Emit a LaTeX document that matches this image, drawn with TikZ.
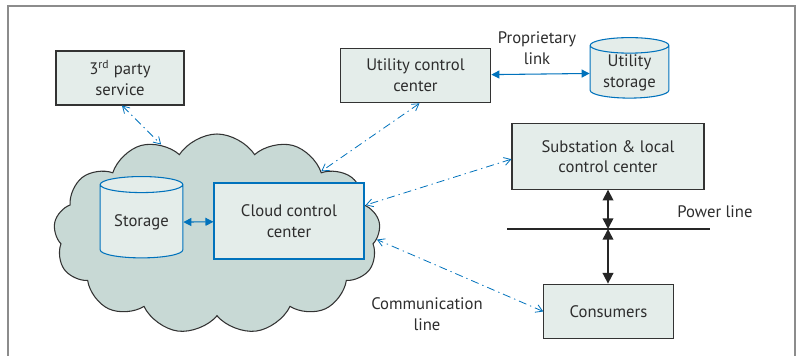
\documentclass[tikz,border=0pt]{standalone}
\usepackage{fontspec}
\setmainfont{PT Sans}
\usetikzlibrary{arrows.meta,positioning,shapes.geometric,shapes.symbols}
\definecolor{BoxFill}{RGB}{228,237,234}
\definecolor{CloudFill}{RGB}{200,217,213}
\definecolor{LinkBlue}{RGB}{0,114,188}
\definecolor{TextGray}{RGB}{45,45,45}
\definecolor{FrameGray}{RGB}{140,140,140}
\tikzset{
  block/.style={draw=black!80,fill=BoxFill,thick,align=center,
    text=TextGray,inner sep=2pt},
  blueblock/.style={block,draw=LinkBlue},
  store/.style={cylinder,shape border rotate=90,aspect=0.28,draw=LinkBlue,
    fill=BoxFill,thick,align=center,text=TextGray,inner sep=1pt},
  label/.style={align=center,text=TextGray},
  comm/.style={{Straight Barb[length=5pt,width=6pt]}-{Straight Barb[length=5pt,width=6pt]},
    LinkBlue,semithick,dash pattern=on 6pt off 3pt on 1pt off 3pt},
  link/.style={{Triangle[length=6pt,width=6pt]}-{Triangle[length=6pt,width=6pt]},
    LinkBlue,thick},
  power/.style={{Triangle[length=8pt,width=8pt]}-{Triangle[length=8pt,width=8pt]},
    black!85,very thick}
}
\begin{document}
\begin{tikzpicture}[x=0.75pt,y=-0.75pt,font=\fontsize{12.5}{15.5}\selectfont]
  \useasboundingbox (0,0) rectangle (799,356);
  % frame
  \draw[FrameGray,thick] (8,356) -- (8,6) -- (795,6) -- (795,356);
  % cloud
  \node[cloud,cloud puffs=13,cloud puff arc=115,aspect=1.6,draw=black!80,
    fill=CloudFill,thick,minimum width=245pt,minimum height=150pt] (cloud) at (217,234) {};
  \node[store,minimum width=62pt,minimum height=61pt] (storage) at (141.5,222.5) {Storage};
  \node[blueblock,minimum width=112.5pt,minimum height=57pt] (ccc) at (289,221) {Cloud control\\center};
  % outside boxes
  \node[block,minimum width=96pt,minimum height=40.5pt] (third) at (120,78) {3\textsuperscript{rd} party\\service};
  \node[block,minimum width=113pt,minimum height=41pt] (ucc) at (415.5,75.5) {Utility control\\center};
  \node[store,minimum width=59pt,minimum height=43.5pt] (ustore) at (629.5,73) {Utility\\storage};
  \node[block,minimum width=144pt,minimum height=49pt] (sub) at (608,156.5) {Substation \& local\\control center};
  \node[block,minimum width=97pt,minimum height=41pt] (cons) at (608.5,311.5) {Consumers};
  % power line
  \coordinate (plwest) at (507,229);
  \coordinate (pleast) at (710,229);
  \coordinate (pljoin) at (608,229);
  \draw[black!85,very thick] (plwest) -- (pleast);
  % labels
  \node[label] (proplbl) at (537,48) {Proprietary\\link};
  \node[label] (powerlbl) at (715,212) {Power line};
  \node[label] (commlbl) at (427,314) {Communication\\line};
  % connectors
  \draw[link] (storage) -- (ccc);
  \draw[link] (ucc) -- (ustore);
  \draw[power] (sub.south -| pljoin) -- (pljoin);
  \draw[power] (pljoin) -- (cons.north -| pljoin);
  \draw[comm] ([xshift=1.5pt]third.south) -- (cloud.122);
  \draw[comm] ([xshift=3pt]ucc.south) -- (cloud.31);
  \draw[comm] ([yshift=-2pt]sub.west) -- (cloud.11);
  \draw[comm] (cons.west) -- (cloud.-2);
\end{tikzpicture}
\end{document}
